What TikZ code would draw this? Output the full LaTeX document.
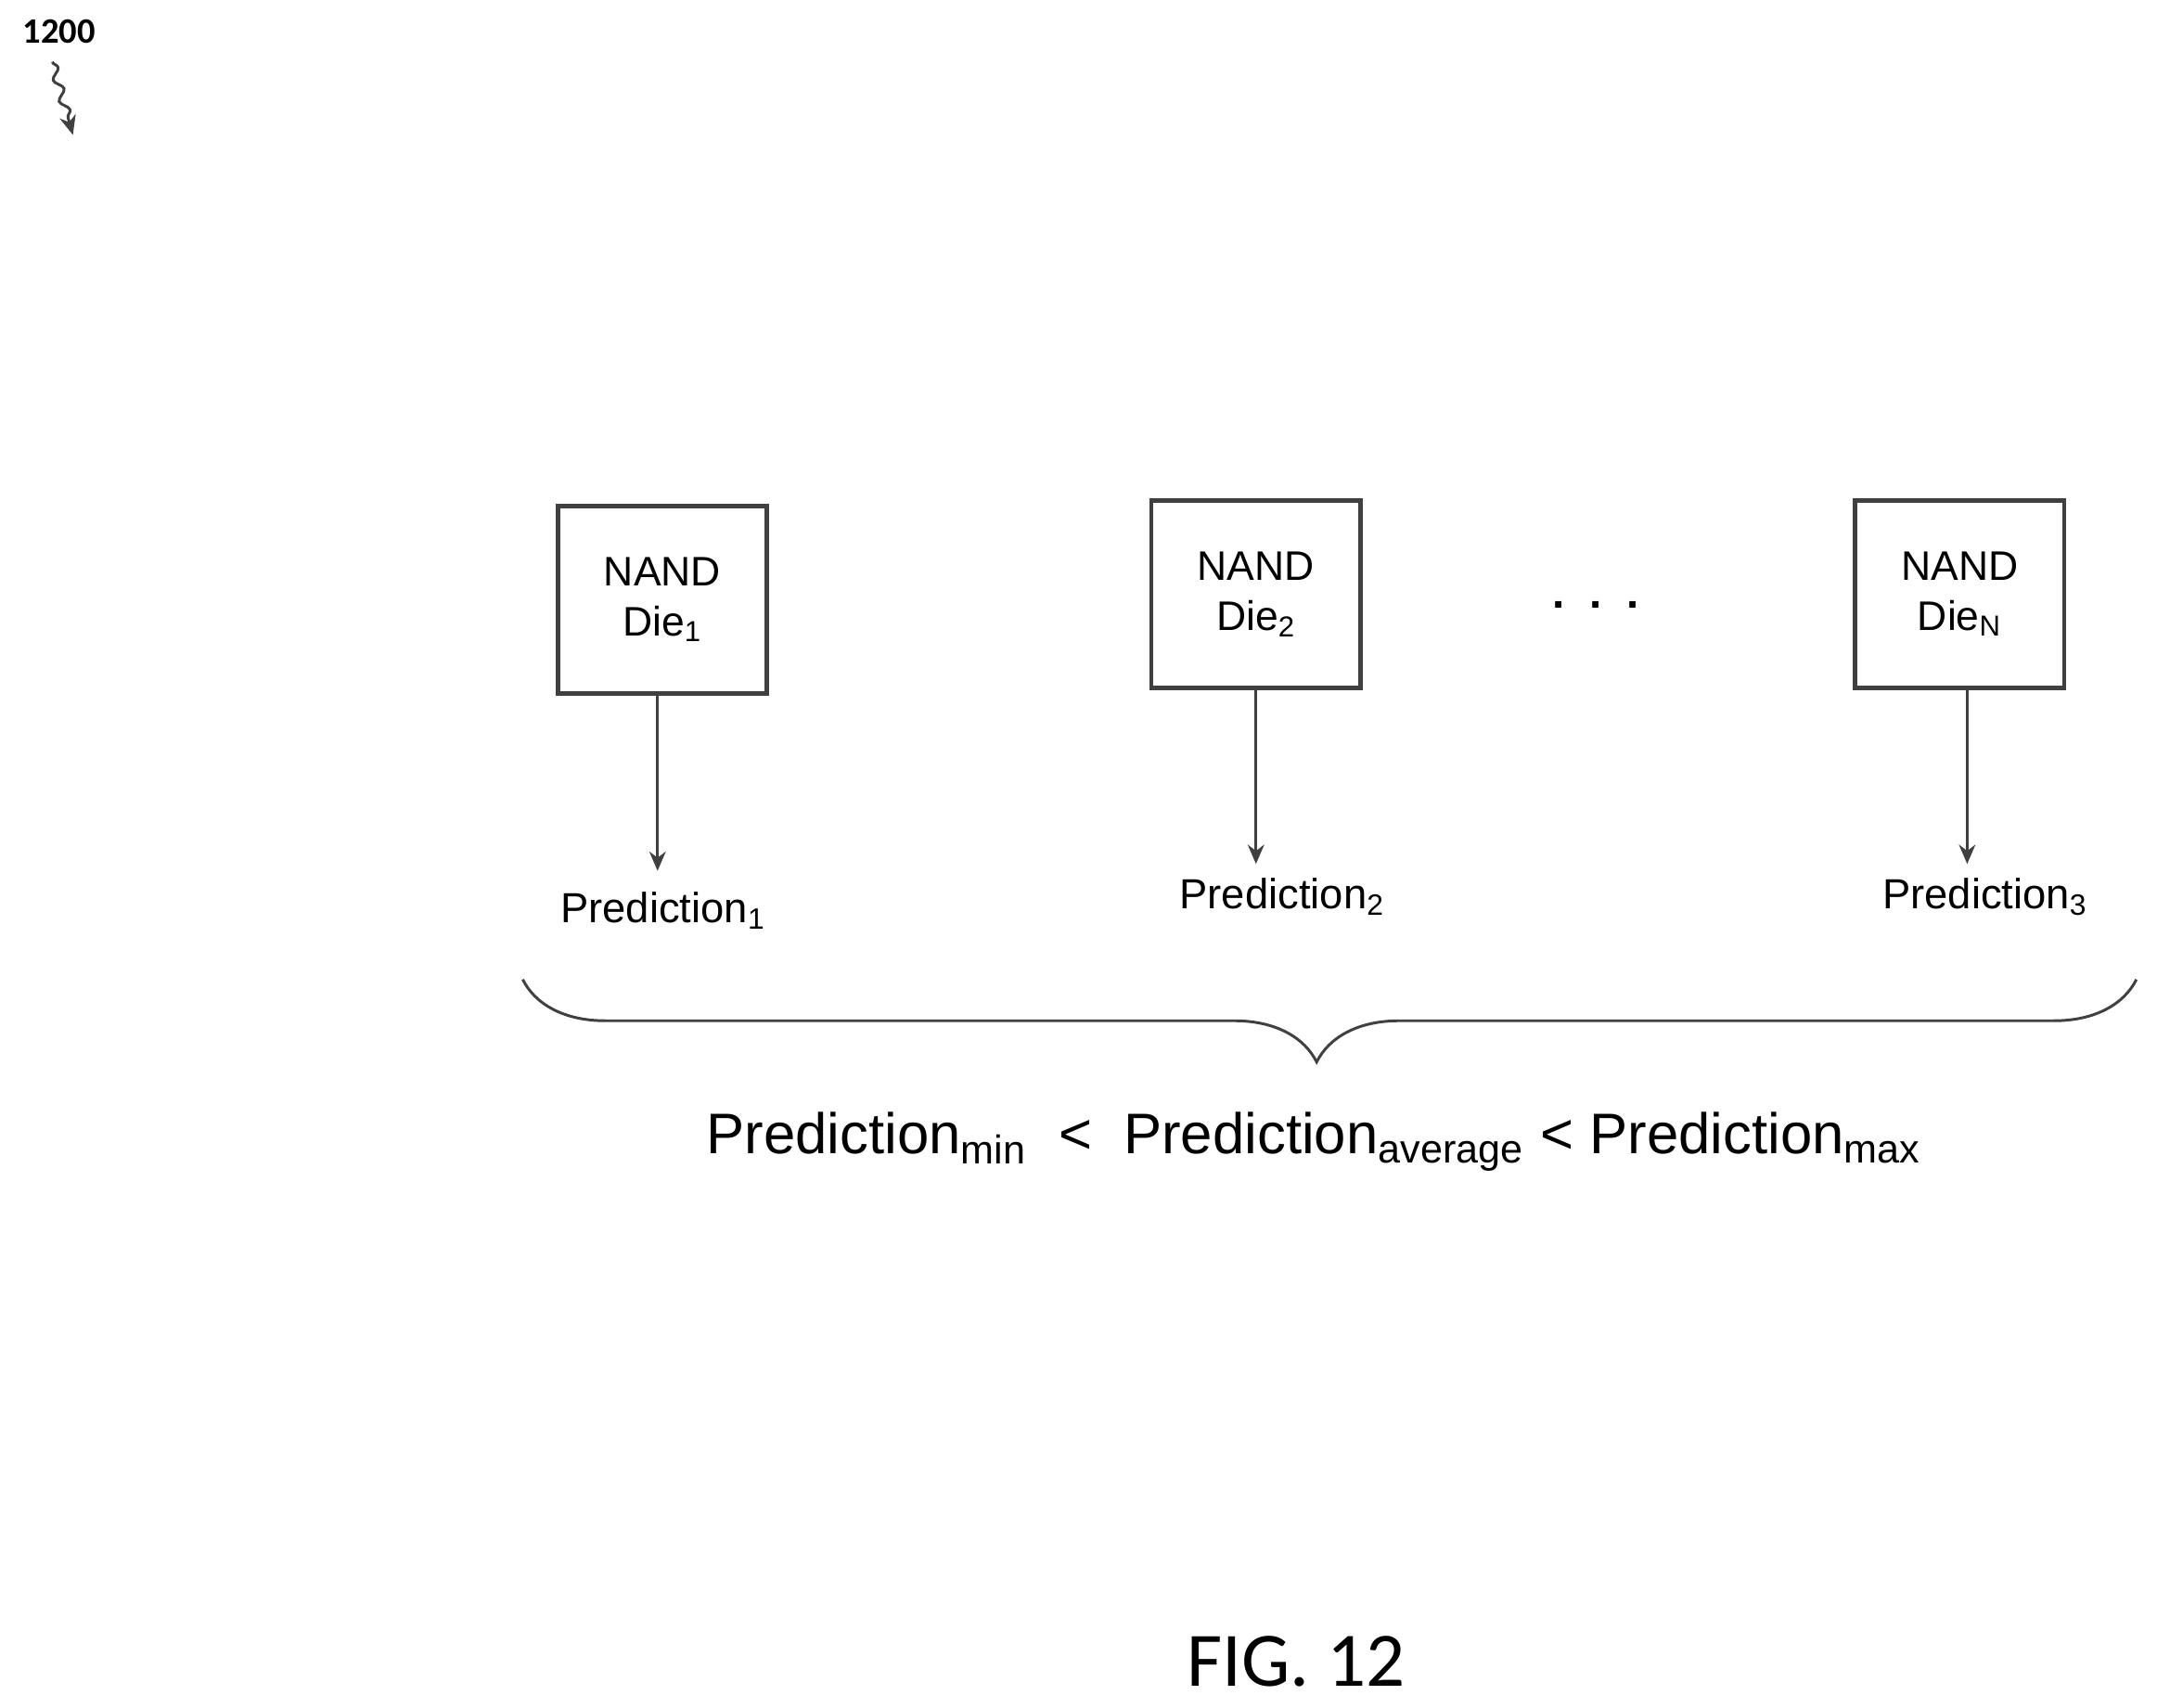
\documentclass[tikz,border=0pt]{standalone}
\usepackage{fontspec}
\setmainfont{Liberation Sans}
\newfontfamily\carlitofont{Carlito}
\usetikzlibrary{decorations.pathreplacing,decorations.pathmorphing,arrows.meta}
\begin{document}
\begin{tikzpicture}[x=0.5pt,y=-0.5pt,
 die/.style={draw=black!75,line width=1.6pt,minimum width=76pt,minimum height=68pt,align=center,font=\fontsize{15}{18}\selectfont,inner sep=0pt},
 arr/.style={draw=black!75,line width=0.9pt,-{Stealth[length=7pt,width=6pt]}},
 pred/.style={font=\fontsize{15.3}{17}\selectfont,inner sep=0pt}]
\useasboundingbox (0,0) rectangle (1568,1241);
\node[font=\carlitofont\bfseries\fontsize{13}{14}\selectfont,inner sep=0pt] (lab) at (43,23) {1200};
\coordinate (s1) at (38,45); \coordinate (s2) at (53,98);
\draw[black!75,line width=1pt,-{Stealth[length=7pt,width=6pt]},decorate,decoration={snake,amplitude=1.5pt,segment length=8pt,post length=4pt}] (s1) -- (s2);
\node[die] (d1) at (481.5,436) {NAND\\Die\textsubscript{1}};
\node[die] (d2) at (913,432) {NAND\\Die\textsubscript{2}};
\node[die] (dn) at (1424.5,432) {NAND\\Die\textsubscript{N}};
\node[font=\fontsize{16}{18}\selectfont\bfseries] (dots) at (1160,440) {.\ \ .\ \ .};
\node[pred] (p1) at (482,662) {Prediction\textsubscript{1}};
\node[pred] (p2) at (932,652) {Prediction\textsubscript{2}};
\node[pred] (p3) at (1443,652) {Prediction\textsubscript{3}};
\draw[arr] (478,504) -- (478,633);
\draw[arr] (913,500) -- (913,628);
\draw[arr] (1430,500) -- (1430,628);
\coordinate (bl) at (380,712); \coordinate (br) at (1553,712);
\draw[black!75,line width=1pt,decorate,decoration={brace,mirror,amplitude=30pt,aspect=0.492}] (bl) -- (br);
\node[font=\fontsize{20.8}{24}\selectfont,inner sep=0pt] (eq) at (955,830) {Prediction\textsubscript{min}\ \ <\ \ Prediction\textsubscript{average} < Prediction\textsubscript{max}};
\node[font=\carlitofont\fontsize{28}{32}\selectfont,inner sep=0pt] (fig) at (942,1208) {FIG. 12};
\end{tikzpicture}
\end{document}
